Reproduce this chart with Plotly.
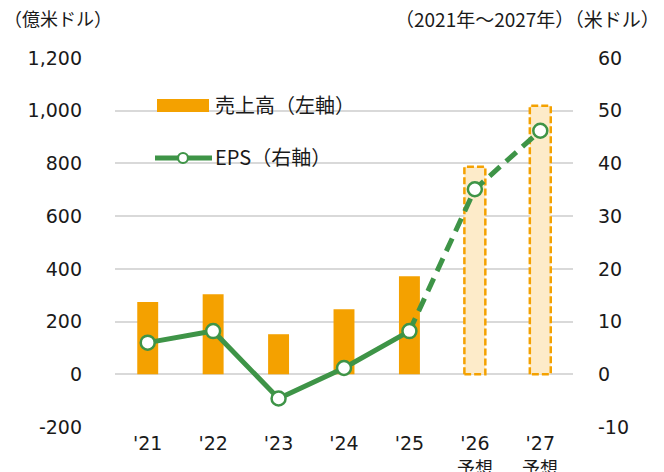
import plotly.graph_objects as go

categories = ["'21", "'22", "'23", "'24", "'25", "'26", "'27"]
forecast_label = "予想"
revenue = [274, 304, 152, 247, 372, 787, 1019]          # 億米ドル (left axis)
eps = [6.0, 8.2, -4.6, 1.2, 8.2, 35.1, 46.2]            # 米ドル (right axis)
n_actual = 5                                              # '21-'25 actual, '26-'27 forecast

left_ticks = [-200, 0, 200, 400, 600, 800, 1000, 1200]
left_text = ["-200", "0", "200", "400", "600", "800", "1,000", "1,200"]
right_ticks = [-10, 0, 10, 20, 30, 40, 50, 60]
right_text = ["-10", "0", "10", "20", "30", "40", "50", "60"]

ORANGE = "#F4A100"
LIGHT = "#FDEBC9"
GREEN = "#3E9447"
TXT = "#1A1A1A"
NUM = "DejaVu Sans, Noto Sans CJK JP, sans-serif"
JP = "Noto Sans CJK JP, DejaVu Sans, sans-serif"

W, H = 664, 472
L, R, T, B = 115, 91, 58, 45
PW, PH = W - L - R, H - T - B


def px(xp):
    return (xp - L) / PW


def py(yp):
    return (H - B - yp) / PH


x = list(range(len(categories)))
bw = 0.32

fig = go.Figure()

# actual revenue bars
fig.add_trace(go.Bar(x=x[:n_actual], y=revenue[:n_actual], width=bw,
                     marker=dict(color=ORANGE, line=dict(width=0)),
                     showlegend=False, yaxis="y"))
# forecast revenue bars (light fill)
fig.add_trace(go.Bar(x=x[n_actual:], y=revenue[n_actual:], width=bw,
                     marker=dict(color=LIGHT, line=dict(width=0)),
                     showlegend=False, yaxis="y"))
# dashed outlines of forecast bars
for xi, v in zip(x[n_actual:], revenue[n_actual:]):
    fig.add_trace(go.Scatter(
        x=[xi - bw / 2, xi - bw / 2, xi + bw / 2, xi + bw / 2, xi - bw / 2],
        y=[0, v, v, 0, 0], mode="lines",
        line=dict(color=ORANGE, width=2.5, dash="7px,3px"),
        showlegend=False, hoverinfo="skip", yaxis="y"))

# EPS dashed forecast line
fig.add_trace(go.Scatter(x=x[n_actual - 1:], y=eps[n_actual - 1:], mode="lines",
                         line=dict(color=GREEN, width=5, dash="14px,8px"),
                         showlegend=False, yaxis="y2"))
# EPS actual
fig.add_trace(go.Scatter(x=x[:n_actual], y=eps[:n_actual], mode="lines+markers",
                         name="EPS（右軸）",
                         line=dict(color=GREEN, width=5),
                         marker=dict(size=14, color="white", line=dict(color=GREEN, width=2.5)),
                         showlegend=False, yaxis="y2"))
# EPS forecast markers
fig.add_trace(go.Scatter(x=x[n_actual:], y=eps[n_actual:], mode="markers",
                         marker=dict(size=14, color="white", line=dict(color=GREEN, width=2.5)),
                         showlegend=False, yaxis="y2"))

# legend (drawn in paper space)
shapes = [
    dict(type="rect", xref="paper", yref="paper", x0=px(157), x1=px(209), y0=py(112), y1=py(99),
         fillcolor=ORANGE, line=dict(width=0)),
    dict(type="line", xref="paper", yref="paper", x0=px(155), x1=px(212), y0=py(158), y1=py(158),
         line=dict(color=GREEN, width=5)),
    dict(type="circle", xref="paper", yref="paper", x0=px(178), x1=px(188), y0=py(163), y1=py(153),
         fillcolor="white", line=dict(color=GREEN, width=2.2)),
]

annotations = [
    dict(text="売上高（左軸）", x=px(213), y=py(104), xref="paper", yref="paper",
         xanchor="left", yanchor="middle", showarrow=False, font=dict(family=JP, size=20, color=TXT)),
    dict(text="EPS（右軸）", x=px(213), y=py(156), xref="paper", yref="paper",
         xanchor="left", yanchor="middle", showarrow=False, font=dict(family=JP, size=20, color=TXT)),
    dict(text="（億米ドル）", x=px(2), y=py(18), xref="paper", yref="paper",
         xanchor="left", yanchor="middle", showarrow=False, font=dict(family=JP, size=18, color=TXT)),
    dict(text="（2021年～2027年）（米ドル）", x=px(662), y=py(18), xref="paper", yref="paper",
         xanchor="right", yanchor="middle", showarrow=False, font=dict(family=JP, size=19, color=TXT)),
]
for xi in x[n_actual:]:
    annotations.append(dict(text=forecast_label, x=xi, y=py(467), xref="x", yref="paper",
                            xanchor="center", yanchor="middle", showarrow=False,
                            font=dict(family=JP, size=18, color=TXT)))

fig.update_layout(
    width=W, height=H,
    margin=dict(l=L, r=R, t=T, b=B),
    paper_bgcolor="white", plot_bgcolor="white",
    font=dict(family=NUM, size=19, color=TXT),
    barmode="overlay",
    showlegend=False,
    xaxis=dict(range=[-0.5, len(categories) - 0.5], tickvals=x, ticktext=categories,
               showgrid=False, zeroline=False, showline=False, ticks="",
               tickfont=dict(family=NUM, size=19, color=TXT), automargin=False,
               ticklabelstandoff=3),
    yaxis=dict(range=[-200, 1200], tickvals=left_ticks, ticktext=left_text,
               showgrid=True, gridcolor="#D9D9D9", gridwidth=1.5, zeroline=False,
               showline=False, ticks="", ticklabelstandoff=32, automargin=False,
               tickfont=dict(family=NUM, size=19, color=TXT)),
    yaxis2=dict(range=[-10, 60], tickvals=right_ticks, ticktext=right_text,
                overlaying="y", side="right", showgrid=False, zeroline=False,
                showline=False, ticks="", ticklabelstandoff=24, automargin=False,
                tickfont=dict(family=NUM, size=19, color=TXT)),
    shapes=shapes,
    annotations=annotations,
)

fig.write_html("out.html", config={"displayModeBar": False},
               post_script="document.body.style.margin='0';")
